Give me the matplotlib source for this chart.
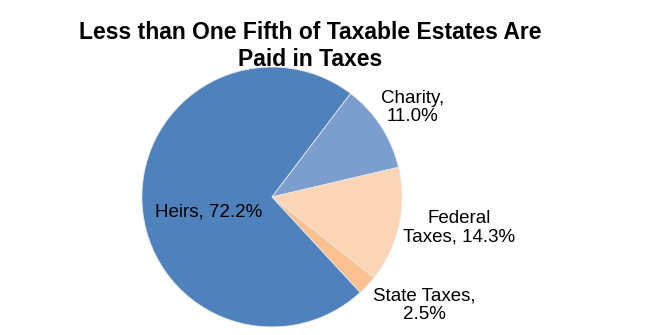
import matplotlib

matplotlib.use("Agg")
import matplotlib.pyplot as plt

plt.rcParams["font.family"] = ["Liberation Sans", "DejaVu Sans"]

# data (share of taxable estates, percent)
categories = ["Charity", "Federal Taxes", "State Taxes", "Heirs"]
shares = [11.0, 14.3, 2.5, 72.2]
colors = ["#7C9ECF", "#FBD5B5", "#FAC08F", "#4F81BD"]

# label text and where it sits (pie data units, radius = 1)
label_text = ["Charity,\n11.0%", "Federal\nTaxes, 14.3%", "State Taxes,\n2.5%", "Heirs, 72.2%"]
label_pos = [(1.085, 0.69), (1.44, -0.235), (1.17, -0.83), (-0.485, -0.115)]

fig = plt.figure(figsize=(6.6, 3.35), dpi=100)
ax = fig.add_axes([0.215, 0.024, 0.394, 0.776])

ax.pie(
    shares,
    colors=colors,
    startangle=52.8,
    counterclock=False,
    wedgeprops={"edgecolor": "#E8E8E8", "linewidth": 0.6},
)
ax.set_xlim(-1, 1)
ax.set_ylim(-1, 1)
ax.set_aspect("auto")

for txt, (x, y) in zip(label_text, label_pos):
    ax.text(x, y, txt, ha="center", va="center", fontsize=13.5,
            linespacing=1.12, clip_on=False)

fig.text(0.47, 0.862, "Less than One Fifth of Taxable Estates Are\nPaid in Taxes",
         ha="center", va="center", fontsize=16.5, fontweight="bold",
         linespacing=1.2)

fig.savefig("out.png", dpi=100)
plt.close(fig)
